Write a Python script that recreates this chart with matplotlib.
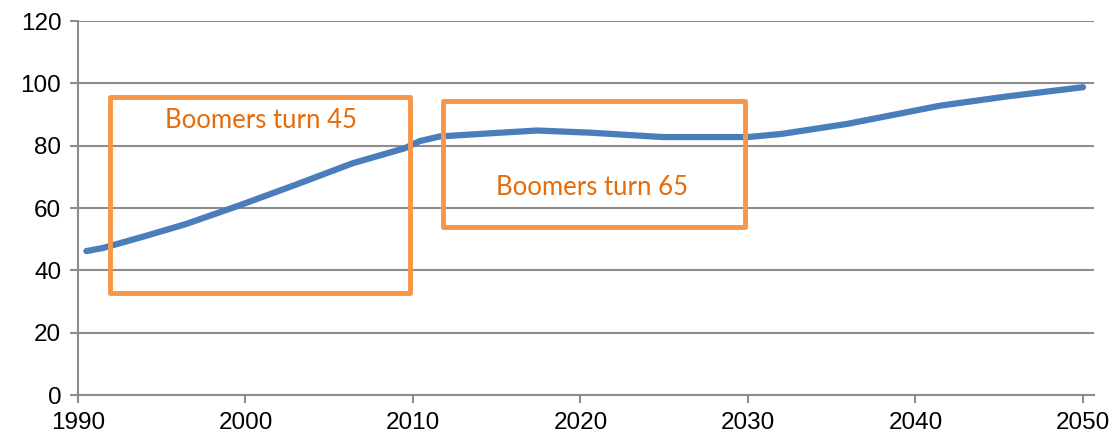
import matplotlib.pyplot as plt
from matplotlib.patches import Rectangle

# values
years = [1990.5, 1991.5, 1994, 1996.4, 1999.5, 2003, 2006.4, 2009.5, 2010.4,
         2011.6, 2014, 2017.4, 2020.6, 2024.9, 2030, 2032, 2035.9, 2041.5,
         2045.4, 2050]
values = [46.2, 47.2, 51.0, 54.8, 60.6, 67.5, 74.4, 79.2, 81.5,
          83.0, 83.8, 84.9, 84.2, 82.8, 82.8, 83.8, 87.0, 92.9,
          95.8, 98.8]

x_ticks = [1990, 2000, 2010, 2020, 2030, 2040, 2050]
y_ticks = [0, 20, 40, 60, 80, 100, 120]

# annotation boxes: (x0, x1, y0, y1, label, label_x, label_y)
boxes = [
    (1991.9, 2009.8, 32.7, 95.8, "Boomers turn 45", 2000.9, 88.1),
    (2011.8, 2029.8, 53.9, 94.3, "Boomers turn 65", 2020.7, 66.7),
]


def draw_chart():
    fig = plt.figure(figsize=(11.19, 4.41), dpi=100)
    ax = fig.add_axes([0.0697, 0.1043, 0.9080, 0.8477])

    grid_color = "#8c8c8c"
    ax.set_xlim(1990, 2050.66)
    ax.set_ylim(0, 120)
    ax.set_yticks(y_ticks)
    ax.set_xticks(x_ticks)
    ax.yaxis.grid(True, color=grid_color, linewidth=1.5)
    ax.set_axisbelow(True)

    for side in ["top", "right"]:
        ax.spines[side].set_visible(False)
    for side in ["left", "bottom"]:
        ax.spines[side].set_color(grid_color)
        ax.spines[side].set_linewidth(1.5)

    ax.tick_params(axis="both", colors=grid_color, width=1.5, length=6,
                   labelcolor="black", labelsize=17.5)
    for lbl in ax.get_xticklabels() + ax.get_yticklabels():
        lbl.set_family("Liberation Sans")
    ax.tick_params(axis="x", pad=6)
    ax.tick_params(axis="y", pad=6)

    ax.plot(years, values, color="#4A7EBB", linewidth=4.5,
            solid_capstyle="round", solid_joinstyle="round", zorder=3)

    for x0, x1, y0, y1, label, lx, ly in boxes:
        ax.add_patch(Rectangle((x0, y0), x1 - x0, y1 - y0, fill=False,
                               edgecolor="#F79646", linewidth=3.5,
                               joinstyle="round", zorder=4))
        ax.text(lx, ly, label, color="#E46C0A", fontsize=18.5,
                family="Lato", ha="center", va="center", zorder=5)

    fig.savefig("out.png", dpi=100)
    plt.close(fig)


if __name__ == "__main__":
    draw_chart()
